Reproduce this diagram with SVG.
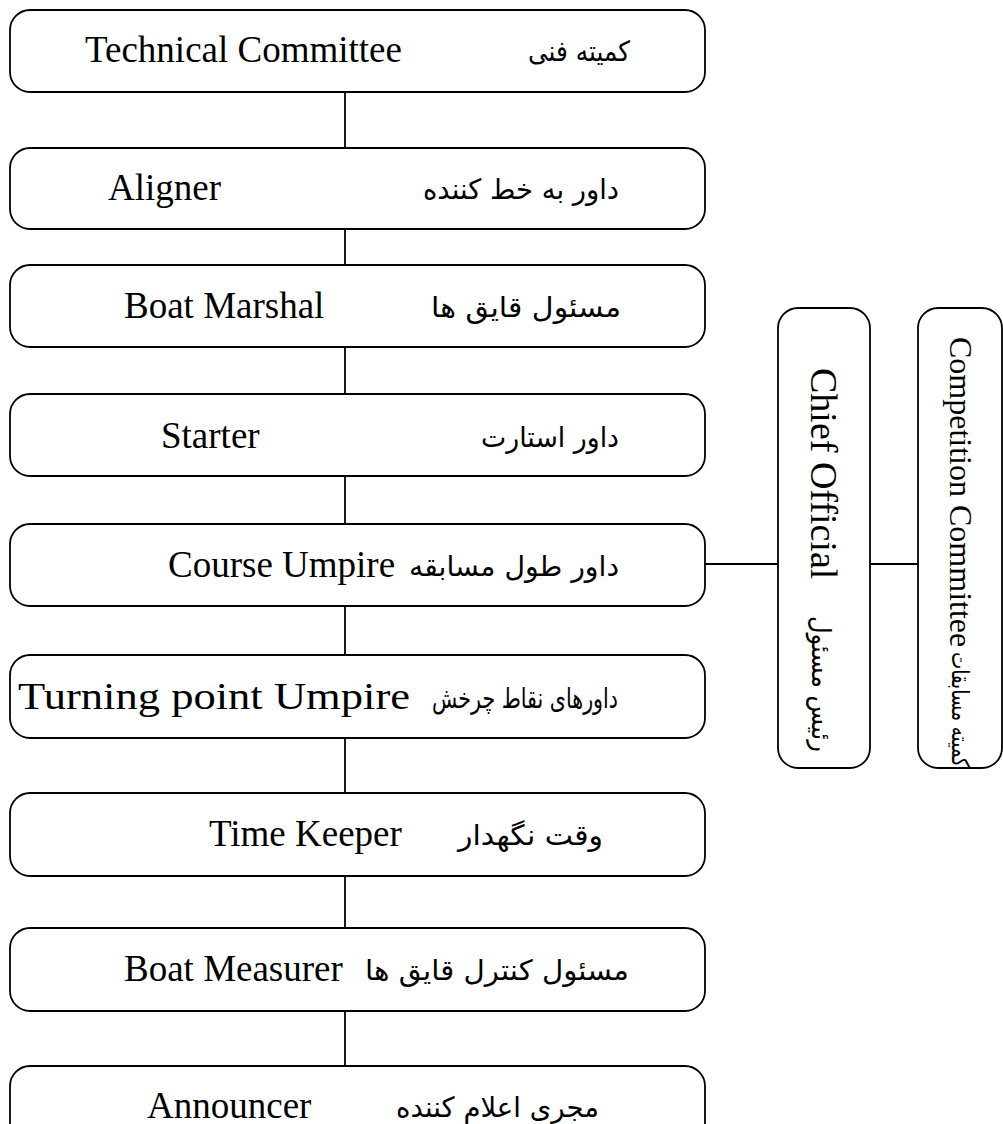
<svg xmlns="http://www.w3.org/2000/svg" width="1003" height="1124" viewBox="0 0 1003 1124">
<style>
.box{fill:#fff;stroke:#000;stroke-width:1.8}
.en{font-family:"Liberation Serif","Times New Roman",serif;font-size:37px;fill:#000}
.fa{font-family:"DejaVu Sans","Noto Sans",sans-serif;font-size:28px;fill:#000;direction:rtl;text-anchor:start}
.ln{stroke:#000;stroke-width:1.8;fill:none}
</style>
<rect width="1003" height="1124" fill="#fff"/>
<g id="connectors">
<line class="ln" x1="345" y1="92" x2="345" y2="148"/>
<line class="ln" x1="345" y1="229" x2="345" y2="265"/>
<line class="ln" x1="345" y1="347" x2="345" y2="394"/>
<line class="ln" x1="345" y1="476" x2="345" y2="524"/>
<line class="ln" x1="345" y1="606" x2="345" y2="655"/>
<line class="ln" x1="345" y1="738" x2="345" y2="793"/>
<line class="ln" x1="345" y1="876" x2="345" y2="928"/>
<line class="ln" x1="345" y1="1011" x2="345" y2="1066"/>
<line class="ln" x1="705" y1="564" x2="778" y2="564"/>
<line class="ln" x1="870" y1="564" x2="918" y2="564"/>
</g>
<g id="technical">
<rect class="box" x="10" y="10" width="695" height="82" rx="20"/>
<text class="en" x="85" y="62">Technical Committee</text>
<text class="fa" x="630" y="61" textLength="102" lengthAdjust="spacingAndGlyphs">کمیته فنی</text>
</g>
<g id="aligner">
<rect class="box" x="10" y="148" width="695" height="81" rx="20"/>
<text class="en" x="108" y="200">Aligner</text>
<text class="fa" x="619" y="199" textLength="196" lengthAdjust="spacingAndGlyphs">داور به خط کننده</text>
</g>
<g id="boatmarshal">
<rect class="box" x="10" y="265" width="695" height="82" rx="20"/>
<text class="en" x="124" y="318">Boat Marshal</text>
<text class="fa" x="621" y="317" textLength="190" lengthAdjust="spacingAndGlyphs">مسئول قایق ها</text>
</g>
<g id="starter">
<rect class="box" x="10" y="394" width="695" height="82" rx="20"/>
<text class="en" x="161" y="448">Starter</text>
<text class="fa" x="619" y="447" textLength="138" lengthAdjust="spacingAndGlyphs">داور استارت</text>
</g>
<g id="courseumpire">
<rect class="box" x="10" y="524" width="695" height="82" rx="20"/>
<text class="en" x="168" y="577">Course Umpire</text>
<text class="fa" x="619" y="576" textLength="210" lengthAdjust="spacingAndGlyphs">داور طول مسابقه</text>
</g>
<g id="turningpoint">
<rect class="box" x="10" y="655" width="695" height="83" rx="20"/>
<text class="en" x="18" y="709" textLength="392" lengthAdjust="spacingAndGlyphs">Turning point Umpire</text>
<text class="fa" x="618" y="708" textLength="186" lengthAdjust="spacingAndGlyphs">داورهای نقاط چرخش</text>
</g>
<g id="timekeeper">
<rect class="box" x="10" y="793" width="695" height="83" rx="20"/>
<text class="en" x="209" y="846">Time Keeper</text>
<text class="fa" x="603" y="845" textLength="145" lengthAdjust="spacingAndGlyphs">وقت نگهدار</text>
</g>
<g id="boatmeasurer">
<rect class="box" x="10" y="928" width="695" height="83" rx="20"/>
<text class="en" x="124" y="981">Boat Measurer</text>
<text class="fa" x="629" y="980" textLength="264" lengthAdjust="spacingAndGlyphs">مسئول کنترل قایق ها</text>
</g>
<g id="announcer">
<rect class="box" x="10" y="1066" width="695" height="82" rx="20"/>
<text class="en" x="147" y="1118">Announcer</text>
<text class="fa" x="599" y="1117" textLength="203" lengthAdjust="spacingAndGlyphs">مجری اعلام کننده</text>
</g>
<g id="chiefofficial">
<rect class="box" x="778" y="308" width="92" height="460" rx="20"/>
<text class="en" transform="translate(811,368) rotate(90)" style="font-size:38px">Chief Official</text>
<text class="fa" transform="translate(812,752) rotate(90)" style="font-size:26px" textLength="136" lengthAdjust="spacingAndGlyphs">رئیس مسئول</text>
</g>
<g id="competition">
<rect class="box" x="918" y="308" width="84" height="460" rx="20"/>
<text class="en" transform="translate(950,337) rotate(90)" style="font-size:32px">Competition Committee</text>
<text class="fa" transform="translate(952,767) rotate(90)" style="font-size:24px" textLength="115" lengthAdjust="spacingAndGlyphs">کمیته مسابقات</text>
</g>
</svg>
